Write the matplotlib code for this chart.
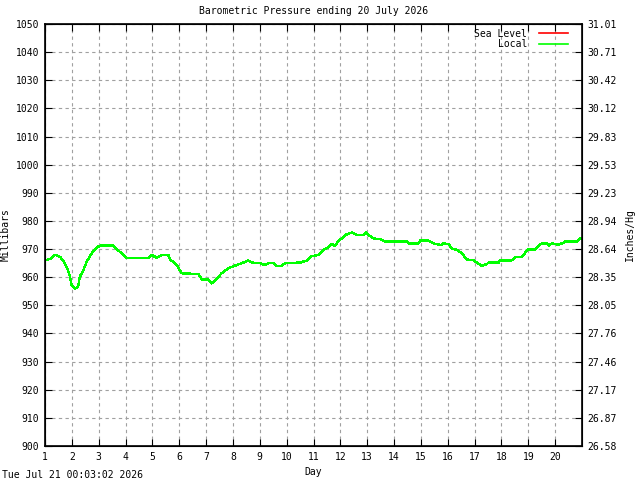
import numpy as np
import matplotlib
matplotlib.use('Agg')
import matplotlib.pyplot as plt

# readings (day of month, millibars)
days = [1.00, 1.19, 1.37, 1.56, 1.67, 1.81, 1.93, 1.99, 2.12, 2.23, 2.30, 2.43,
        2.55, 2.74, 2.93, 3.05, 3.54, 3.79, 4.02, 4.85, 4.98, 5.16, 5.35, 5.59,
        5.66, 5.91, 6.09, 6.71, 6.84, 7.08, 7.21, 7.40, 7.58, 7.77, 7.96, 8.14,
        8.33, 8.57, 8.70, 9.01, 9.20, 9.32, 9.51, 9.63, 9.82, 9.94, 10.50, 10.75,
        10.94, 11.18, 11.37, 11.56, 11.68, 11.80, 11.93, 12.05, 12.18, 12.43,
        12.61, 12.86, 12.96, 13.05, 13.23, 13.48, 13.67, 14.48, 14.54, 14.91,
        14.97, 15.28, 15.47, 15.78, 15.84, 16.03, 16.15, 16.34, 16.53, 16.71,
        16.96, 17.08, 17.27, 17.46, 17.52, 17.89, 17.95, 18.39, 18.51, 18.76,
        18.88, 19.01, 19.26, 19.37, 19.50, 19.69, 19.78, 19.87, 20.12, 20.31,
        20.37, 20.81, 20.93, 21.00]
local = [966.0, 966.5, 968.0, 967.2, 966.0, 963.6, 960.2, 957.2, 956.0, 956.6,
         960.2, 962.5, 965.5, 968.5, 970.6, 971.2, 971.2, 969.0, 966.9, 966.9,
         967.9, 966.9, 967.9, 967.9, 966.3, 964.3, 961.4, 961.1, 959.2, 959.2,
         957.8, 959.6, 961.4, 962.8, 963.7, 964.3, 965.0, 965.9, 965.2, 965.0,
         964.3, 965.0, 965.0, 964.0, 964.0, 965.0, 965.2, 965.9, 967.5, 967.9,
         969.7, 970.6, 971.8, 971.1, 973.0, 973.8, 975.0, 975.9, 975.0, 975.0,
         975.9, 975.0, 973.8, 973.5, 972.7, 972.7, 972.0, 972.0, 973.0, 973.0,
         972.0, 971.4, 972.0, 971.8, 970.2, 969.7, 968.5, 966.3, 966.0, 965.2,
         964.0, 964.7, 965.2, 965.2, 966.0, 966.0, 967.1, 967.1, 968.7, 969.9,
         969.9, 971.1, 972.0, 972.0, 971.3, 972.0, 971.6, 972.2, 972.7, 972.7,
         973.8, 973.8]
sea_level = list(local)

mb_ticks = list(range(900, 1051, 10))
day_ticks = list(range(1, 21))

font = 'DejaVu Sans Mono'
fs = 7

fig = plt.figure(figsize=(6.4, 4.8), dpi=100, facecolor='white')
ax = fig.add_axes([45/640, 34/480, 537/640, 422/480])

ax.plot(days, sea_level, color='#ff0000', lw=0.8, antialiased=False, label='Sea Level')
ax.plot(days, local, color='#00ff00', lw=1.0, antialiased=False, label='Local')

ax.set_xlim(1, 21)
ax.set_ylim(900, 1050)
ax.set_xticks(day_ticks)
ax.set_yticks(mb_ticks)
ax.grid(True, color='#a0a0a0', ls=(0, (3, 3)), lw=0.8)
ax.tick_params(direction='in', length=5, top=True, right=False, labelsize=fs, pad=4)
for lab in ax.get_xticklabels() + ax.get_yticklabels():
    lab.set_family(font)
for s in ax.spines.values():
    s.set_linewidth(1.2)

ax2 = ax.twinx()
ax2.set_ylim(900, 1050)
ax2.set_yticks(mb_ticks)
ax2.set_yticklabels(['%.2f' % (m * 0.02953) for m in mb_ticks], family=font, fontsize=fs)
ax2.tick_params(direction='in', length=5, pad=4)
ax.tick_params(axis='y', right=False)

ax.set_title('Barometric Pressure ending 20 July 2026', family=font, fontsize=fs, pad=7)
ax.set_xlabel('Day', family=font, fontsize=fs, labelpad=4)
ax.set_ylabel('Millibars', family=font, fontsize=fs, labelpad=4)
ax2.set_ylabel('Inches/Hg', family=font, fontsize=fs, labelpad=6)

leg = ax.legend(loc='upper right', frameon=False, markerfirst=False, prop={'family': font, 'size': fs},
                handlelength=3.0, handletextpad=1.2, labelspacing=0.05,
                bbox_to_anchor=(0.99, 1.01))
for line in leg.get_lines():
    line.set_linewidth(1.2)
for t in leg.get_texts():
    t.set_ha('right')

fig.text(2/640, 1 - 475/480, 'Tue Jul 21 00:03:02 2026', family=font, fontsize=fs, va='center')

fig.savefig('out.png', dpi=100, facecolor='white')
plt.close(fig)
